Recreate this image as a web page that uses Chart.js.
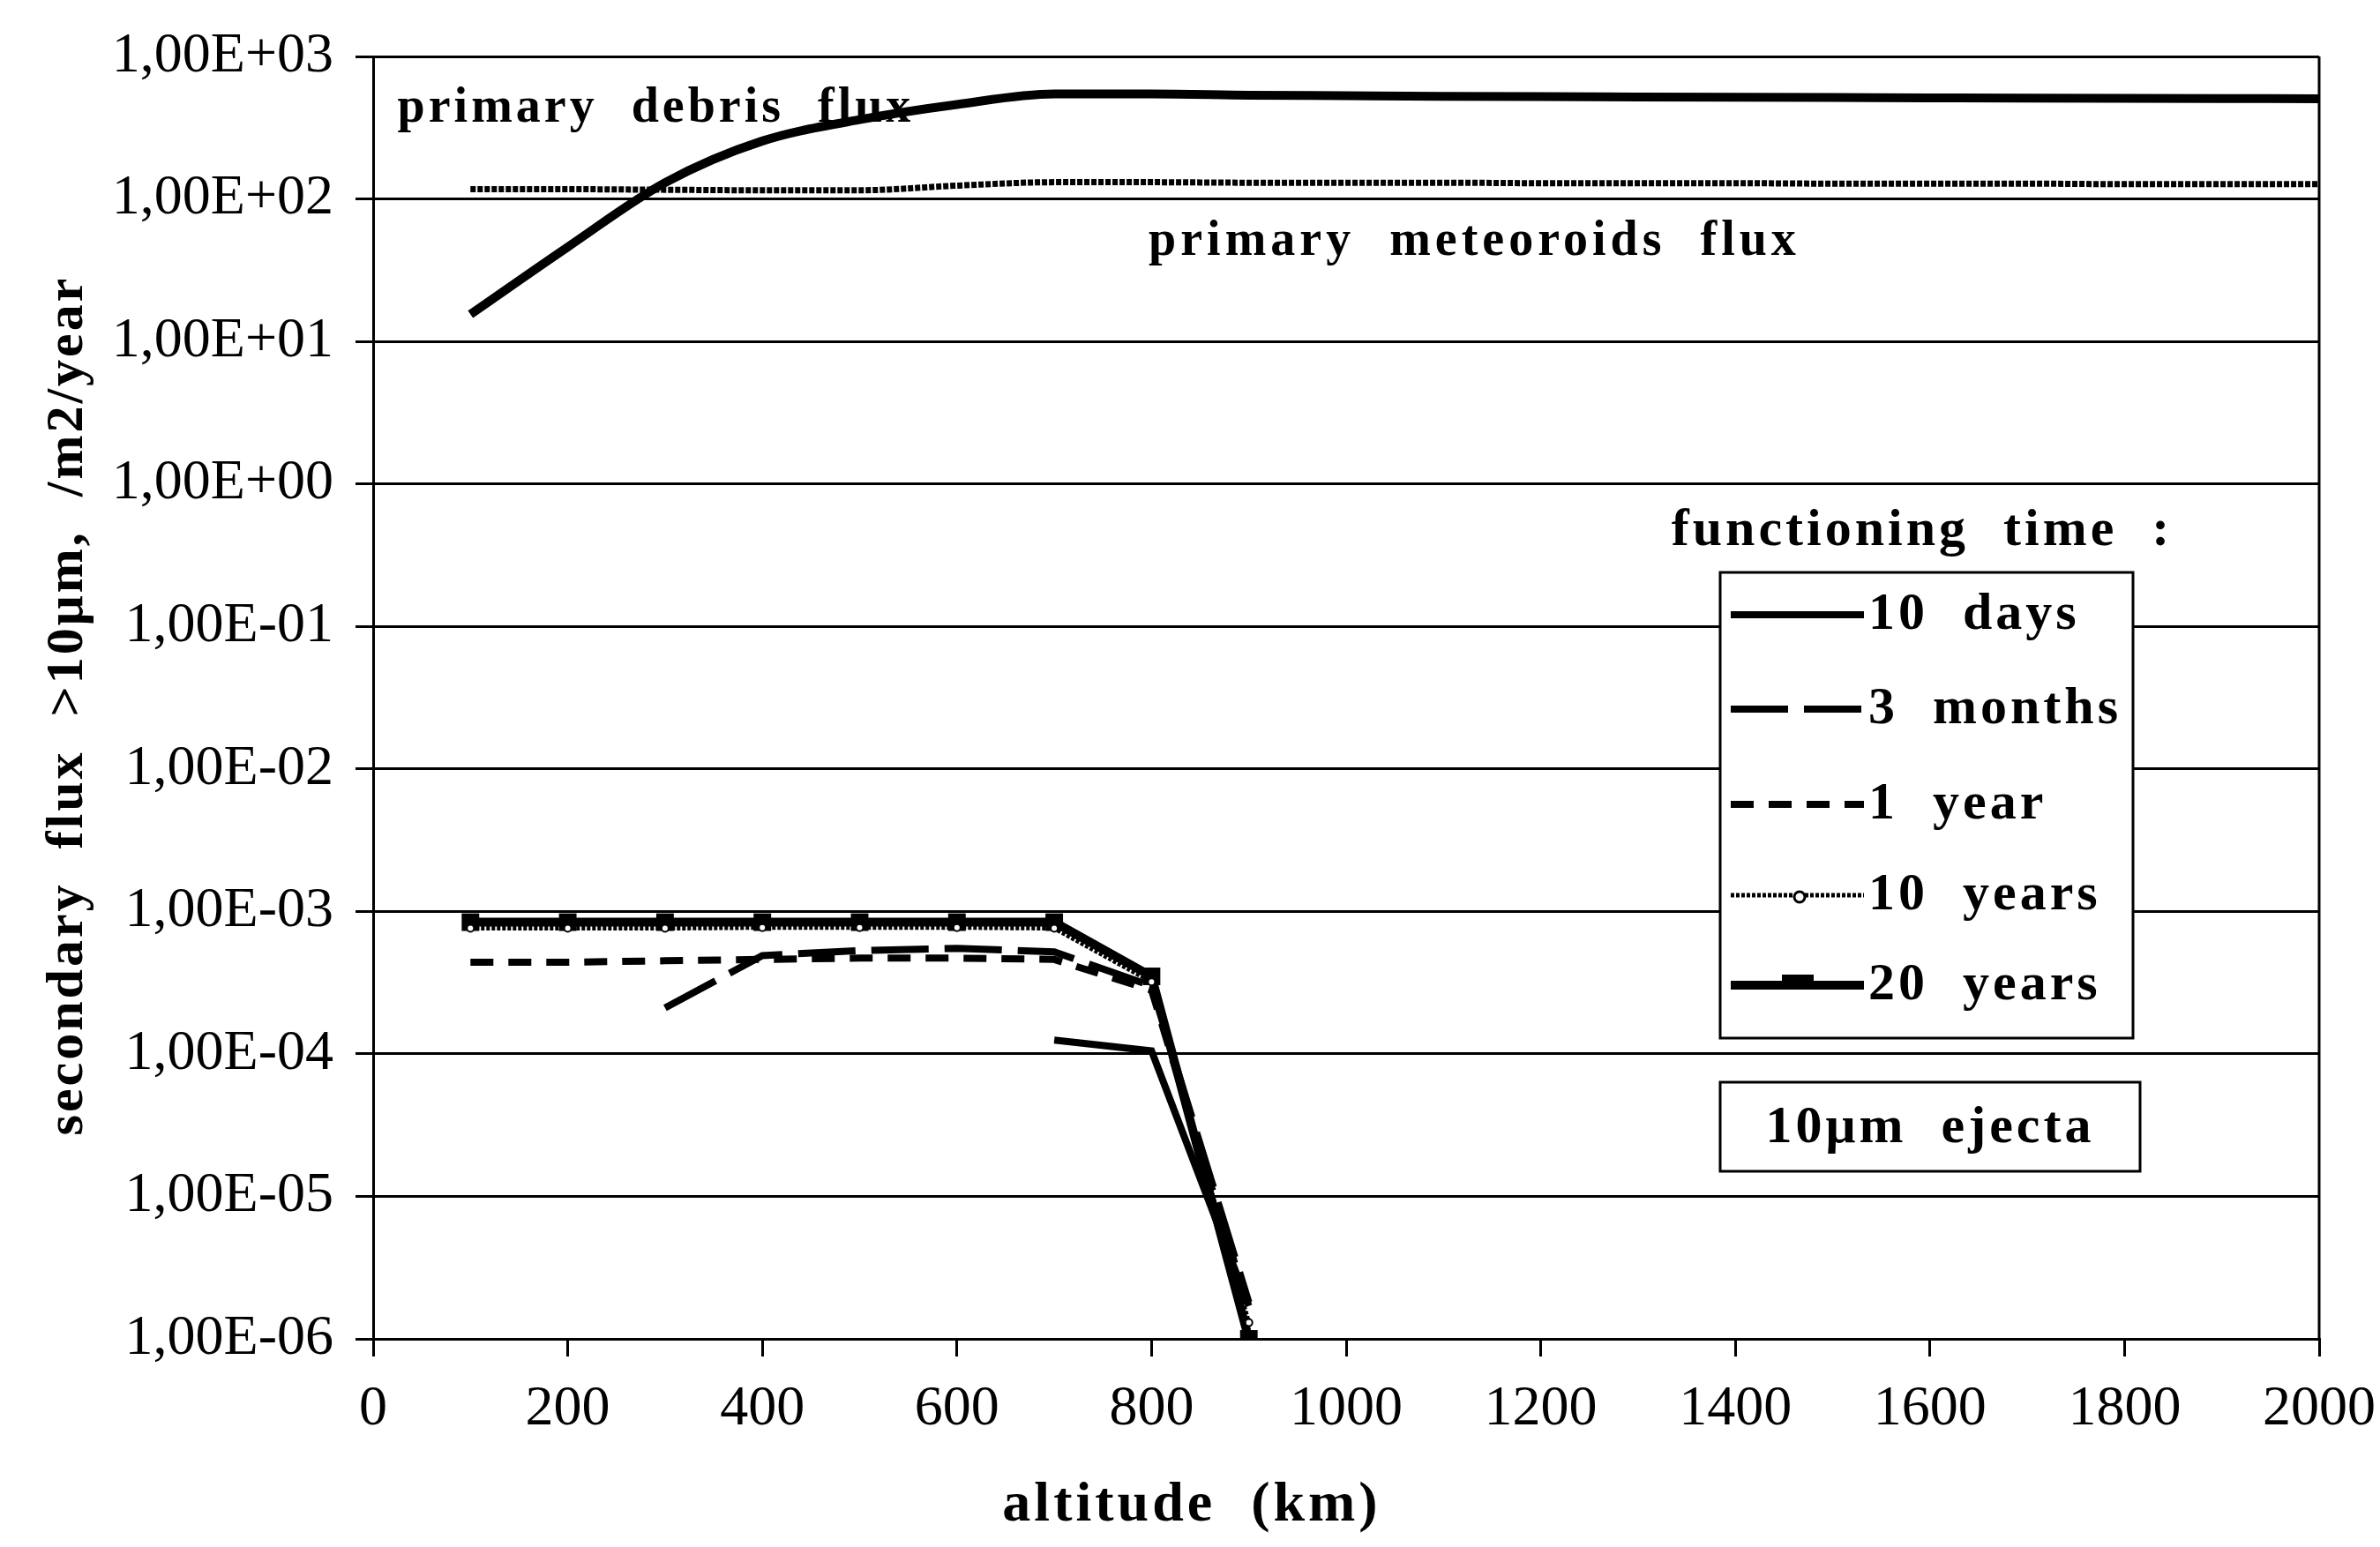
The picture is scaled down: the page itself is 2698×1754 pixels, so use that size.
<!DOCTYPE html>
<html>
<head>
<meta charset="utf-8">
<script src="https://cdn.jsdelivr.net/npm/chart.js@4.4.1/dist/chart.umd.min.js"></script>
<style>
  html, body { margin: 0; padding: 0; background: #fff; }
  canvas { display: block; }
</style>
</head>
<body>
<canvas id="fluxChart" width="2698" height="1754"></canvas>
<script>
// primary fluxes, every 100 km
const primaryAltitudes = [100, 200, 300, 400, 500, 600, 700, 800, 900, 1000,
  1100, 1200, 1300, 1400, 1500, 1600, 1700, 1800, 1900, 2000];
const debrisFlux = [15.5, 46, 130, 255, 360, 460, 545, 545, 535, 530,
  525, 522, 520, 518, 515, 512, 510, 508, 506, 505];
const meteoroidFlux = [117, 117, 116, 115, 115, 124, 131, 131, 130, 130,
  130, 129, 129, 129, 128, 128, 128, 127, 127, 127];

// secondary (10um ejecta) fluxes
const ejectaAltitudes = [100, 200, 300, 400, 500, 600, 700, 800, 900];
const flux10Days = [null, null, null, null, null, null, 1.25e-4, 1.05e-4, 1.7e-6];
const flux3Months = [null, null, 2.1e-4, 4.9e-4, 5.3e-4, 5.5e-4, 5.2e-4, 3.0e-4, 1.8e-6];
const flux1Year = [4.4e-4, 4.4e-4, 4.5e-4, 4.6e-4, 4.7e-4, 4.7e-4, 4.6e-4, 2.8e-4, 1.6e-6];
const flux10Years = [7.6e-4, 7.6e-4, 7.6e-4, 7.7e-4, 7.7e-4, 7.7e-4, 7.6e-4, 3.2e-4, 1.3e-6];
const flux20Years = [8.4e-4, 8.4e-4, 8.4e-4, 8.4e-4, 8.4e-4, 8.4e-4, 8.4e-4, 3.5e-4, 1.0e-6];

const yTickValues = [1e-6, 1e-5, 1e-4, 1e-3, 1e-2, 1e-1, 1e0, 1e1, 1e2, 1e3];
const yTickLabels = ["1,00E-06", "1,00E-05", "1,00E-04", "1,00E-03", "1,00E-02",
  "1,00E-01", "1,00E+00", "1,00E+01", "1,00E+02", "1,00E+03"];
const xTickValues = [0, 200, 400, 600, 800, 1000, 1200, 1400, 1600, 1800, 2000];

const SERIF = "'Liberation Serif', 'Times New Roman', serif";
const toPoints = (xs, ys) => xs.map((x, i) => ({ x: x, y: ys[i] }));

const decorations = {
  id: "decorations",
  beforeDraw(chart) {
    const ctx = chart.ctx;
    ctx.save();
    ctx.fillStyle = "#fff";
    ctx.fillRect(0, 0, chart.width, chart.height);
    ctx.restore();
  },
  beforeDatasetsDraw(chart) {
    const { ctx, scales: { x, y } } = chart;
    ctx.save();
    ctx.fillStyle = "#000";
    ctx.letterSpacing = "4px";
    ctx.wordSpacing = "20px";
    ctx.textBaseline = "middle";
    ctx.textAlign = "left";
    ctx.font = "bold 56px " + SERIF;
    ctx.fillText("primary debris flux", x.getPixelForValue(25), y.getPixelForValue(427));
    ctx.letterSpacing = "5px";
    ctx.fillText("primary meteoroids flux", x.getPixelForValue(797), y.getPixelForValue(50));
    ctx.restore();
  },
  afterDatasetsDraw(chart) {
    const { ctx, chartArea: a } = chart;
    ctx.save();
    // right frame edge
    ctx.strokeStyle = "#000";
    ctx.lineWidth = 3;
    ctx.beginPath();
    ctx.moveTo(a.right, a.top);
    ctx.lineTo(a.right, a.bottom);
    ctx.stroke();

    ctx.fillStyle = "#000";
    ctx.letterSpacing = "4px";
    ctx.wordSpacing = "20px";
    ctx.textBaseline = "middle";

    // axis titles
    ctx.font = "bold 64px " + SERIF;
    ctx.textAlign = "center";
    ctx.fillText("altitude (km)", 1351, 1707);
    ctx.save();
    ctx.translate(77, 800);
    ctx.rotate(-Math.PI / 2);
    ctx.font = "bold 60px " + SERIF;
    ctx.letterSpacing = "3px";
    ctx.fillText("secondary flux >10\u03bcm, /m2/year", 0, 0);
    ctx.restore();

    // legend
    ctx.font = "bold 60px " + SERIF;
    ctx.fillText("functioning time :", 2179, 602);
    ctx.fillStyle = "#fff";
    ctx.fillRect(1950, 649, 468, 528);
    ctx.strokeRect(1950, 649, 468, 528);
    const rows = [697, 804, 912, 1015, 1117];
    const items = chart.data.datasets.filter((d) => d.inLegend);
    items.forEach((ds, i) => {
      const ly = rows[i];
      ctx.strokeStyle = "#000";
      ctx.lineWidth = ds.borderWidth;
      ctx.setLineDash(ds.borderDash || []);
      ctx.beginPath();
      ctx.moveTo(1962, ly);
      ctx.lineTo(2113, ly);
      ctx.stroke();
      ctx.setLineDash([]);
      if (ds.pointStyle === "rect") {
        ctx.fillStyle = "#000";
        ctx.fillRect(2020, ly - 12, 36, 14);
      } else if (ds.pointStyle === "circle") {
        ctx.fillStyle = "#fff";
        ctx.lineWidth = 3;
        ctx.beginPath();
        ctx.arc(2040, ly + 2, 6, 0, Math.PI * 2);
        ctx.fill();
        ctx.stroke();
      }
      ctx.fillStyle = "#000";
      ctx.textAlign = "left";
      ctx.fillText(ds.label, 2118, ly);
    });

    // ejecta box
    ctx.fillStyle = "#fff";
    ctx.fillRect(1950, 1227, 476, 101);
    ctx.lineWidth = 3;
    ctx.strokeRect(1950, 1227, 476, 101);
    ctx.fillStyle = "#000";
    ctx.textAlign = "center";
    ctx.fillText("10\u03bcm ejecta", 2188, 1279);
    ctx.restore();
  }
};

new Chart(document.getElementById("fluxChart"), {
  type: "line",
  data: {
    datasets: [
      {
        label: "primary debris flux",
        data: toPoints(primaryAltitudes, debrisFlux),
        borderColor: "#000",
        borderWidth: 10,
        cubicInterpolationMode: "monotone",
        pointRadius: 0,
      },
      {
        label: "primary meteoroids flux",
        data: toPoints(primaryAltitudes, meteoroidFlux),
        borderColor: "#000",
        borderWidth: 7,
        borderDash: [6, 2],
        cubicInterpolationMode: "monotone",
        pointRadius: 0,
      },
      {
        label: "10 days",
        inLegend: true,
        data: toPoints(ejectaAltitudes, flux10Days),
        borderColor: "#000",
        borderWidth: 8,
        pointRadius: 0,
      },
      {
        label: "3 months",
        inLegend: true,
        data: toPoints(ejectaAltitudes, flux3Months),
        borderColor: "#000",
        borderWidth: 8,
        borderDash: [65, 18],
        pointRadius: 0,
      },
      {
        label: "1 year",
        inLegend: true,
        data: toPoints(ejectaAltitudes, flux1Year),
        borderColor: "#000",
        borderWidth: 8,
        borderDash: [26, 17],
        pointRadius: 0,
      },
      {
        label: "10 years",
        inLegend: true,
        data: toPoints(ejectaAltitudes, flux10Years),
        borderColor: "#000",
        borderWidth: 5,
        borderDash: [4, 2],
        pointStyle: "circle",
        pointRadius: 4,
        pointBorderWidth: 2,
        pointBackgroundColor: "#fff",
        pointBorderColor: "#000",
      },
      {
        label: "20 years",
        inLegend: true,
        data: toPoints(ejectaAltitudes, flux20Years),
        borderColor: "#000",
        borderWidth: 10,
        pointStyle: "rect",
        pointRadius: 7,
        pointBackgroundColor: "#000",
        pointBorderColor: "#000",
      },
    ],
  },
  options: {
    responsive: false,
    animation: false,
    devicePixelRatio: 1,
    layout: { padding: { left: 0, right: 69, top: 64, bottom: 0 } },
    plugins: { legend: { display: false }, tooltip: { enabled: false } },
    scales: {
      x: {
        type: "linear",
        min: 0,
        max: 2000,
        afterBuildTicks: (scale) => {
          scale.ticks = xTickValues.map((v) => ({ value: v }));
        },
        afterFit: (scale) => {
          scale.height = 236;
          scale.paddingLeft = 0;
          scale.paddingRight = 0;
        },
        grid: { drawOnChartArea: false, color: "#000", lineWidth: 3, tickLength: 20 },
        border: { display: true, color: "#000", width: 3 },
        ticks: {
          color: "#000",
          padding: 22,
          autoSkip: false,
          maxRotation: 0,
          font: { family: SERIF, size: 64 },
          callback: (v) => String(v),
        },
      },
      y: {
        type: "logarithmic",
        min: 1e-6,
        max: 1e3,
        afterBuildTicks: (scale) => {
          scale.ticks = yTickValues.map((v) => ({ value: v }));
        },
        afterFit: (scale) => {
          scale.width = 423;
          scale.paddingTop = 0;
          scale.paddingBottom = 0;
        },
        grid: { color: "#000", lineWidth: 3, tickLength: 20 },
        border: { display: true, color: "#000", width: 3 },
        ticks: {
          color: "#000",
          padding: 25,
          autoSkip: false,
          font: { family: SERIF, size: 64 },
          callback: (v) => yTickLabels[yTickValues.indexOf(v)],
        },
      },
    },
  },
  plugins: [decorations],
});
</script>
</body>
</html>
